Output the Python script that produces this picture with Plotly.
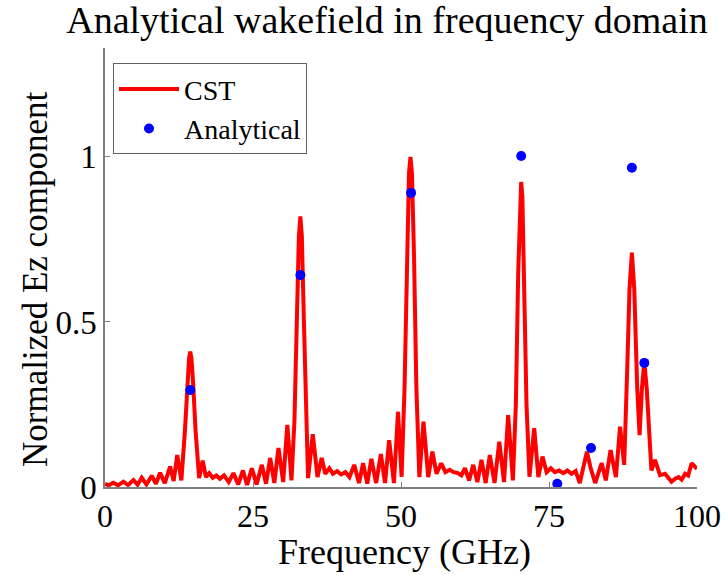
import plotly.graph_objects as go

# CST simulated spectrum
cst_freq = [0.0, 0.6, 1.4, 2.2, 3.1, 3.9, 4.8, 5.5, 6.2, 7.0, 7.9, 8.6, 9.3, 10.1, 11.0, 11.6, 12.2, 12.9,
            13.5, 13.9, 14.2, 14.4, 14.6, 14.9, 15.3, 15.9,
            16.5, 17.05, 17.6, 18.2, 18.8, 19.4, 20.1, 20.9, 21.7, 22.5, 23.3, 24.0, 24.8, 25.6, 26.5, 27.2,
            27.9, 28.6, 29.3, 30.1, 30.8, 31.5,
            32.0, 32.4, 32.75, 33.0, 33.25, 33.6, 33.95, 34.3,
            35.1, 35.9, 36.6, 37.2, 37.9, 38.5, 39.2, 39.9, 40.6, 41.3, 42.1, 42.9, 43.6, 44.3, 45.0, 45.8,
            46.6, 47.3, 48.0, 48.8, 49.5, 50.1,
            50.6, 51.0, 51.35, 51.6, 51.85, 52.2, 52.6, 53.1,
            53.8, 54.6, 55.3, 56.0, 56.8, 57.5, 58.2, 58.9, 59.6, 60.2, 60.8, 61.5, 62.2, 62.9, 63.6, 64.3,
            65.0, 65.8, 66.6, 67.4, 68.1, 68.9,
            69.4, 69.8, 70.1, 70.3, 70.5, 70.8, 71.2, 71.7,
            72.5, 73.2, 73.9, 74.6, 75.3, 76.0, 76.7, 77.4, 78.1, 78.8, 79.5, 80.2, 80.8, 81.4, 82.0, 82.8,
            83.9, 84.6, 85.4, 86.3, 87.0, 87.7,
            88.2, 88.6, 89.0, 89.4, 89.9, 90.3, 90.7, 91.1, 91.5, 92.3,
            92.9, 93.75, 94.6, 95.2, 95.7, 96.3, 96.9, 97.4, 98.0, 98.5, 99.1, 100.0]
cst_value = [0.010, 0.005, 0.013, 0.005, 0.016, 0.006, 0.021, 0.007, 0.028, 0.008, 0.034, 0.010, 0.043, 0.012, 0.062, 0.018, 0.097, 0.020,
             0.17, 0.31, 0.39, 0.41, 0.39, 0.31, 0.17, 0.027,
             0.080, 0.030, 0.042, 0.028, 0.035, 0.025, 0.035, 0.015, 0.042, 0.008, 0.050, 0.006, 0.057, 0.008, 0.067, 0.010,
             0.088, 0.012, 0.118, 0.015, 0.188, 0.020,
             0.20, 0.50, 0.76, 0.82, 0.76, 0.50, 0.20, 0.027,
             0.160, 0.030, 0.088, 0.040, 0.057, 0.040, 0.048, 0.038, 0.045, 0.030, 0.067, 0.012, 0.072, 0.010, 0.085, 0.012,
             0.100, 0.012, 0.142, 0.012, 0.228, 0.031,
             0.30, 0.70, 0.95, 1.0, 0.95, 0.70, 0.30, 0.030,
             0.198, 0.030, 0.107, 0.040, 0.072, 0.045, 0.052, 0.045, 0.042, 0.035, 0.057, 0.020, 0.067, 0.015, 0.082, 0.012,
             0.097, 0.012, 0.137, 0.015, 0.218, 0.020,
             0.25, 0.65, 0.88, 0.924, 0.88, 0.65, 0.25, 0.031,
             0.178, 0.030, 0.092, 0.045, 0.057, 0.045, 0.050, 0.042, 0.050, 0.040, 0.048, 0.012, 0.060, 0.107, 0.060, 0.012,
             0.072, 0.020, 0.112, 0.030, 0.183, 0.067,
             0.35, 0.60, 0.71, 0.60, 0.30, 0.157, 0.30, 0.377, 0.30, 0.050,
             0.082, 0.036, 0.040, 0.025, 0.016, 0.025, 0.030, 0.022, 0.040, 0.035, 0.072, 0.055]

# Analytical points
ana_freq = [14.4, 33.0, 51.7, 70.3, 76.4, 82.1, 89.0, 91.1]
ana_value = [0.294, 0.642, 0.891, 1.003, 0.01, 0.118, 0.967, 0.376]

x_ticks = [0, 25, 50, 75, 100]
y_ticks = [0, 0.5, 1]

FONT = "Liberation Serif, Times New Roman, serif"
W, H = 727, 575

fig = go.Figure()
fig.add_trace(go.Scatter(x=cst_freq, y=cst_value, mode="lines", name="CST",
                         line=dict(color="#ff0000", width=4)))
fig.add_trace(go.Scatter(x=ana_freq, y=ana_value, mode="markers", name="Analytical",
                         marker=dict(color="#0000ff", size=10), cliponaxis=False))

fig.update_layout(
    width=W, height=H,
    margin=dict(l=105, r=30, t=48, b=88, autoexpand=False),
    paper_bgcolor="white", plot_bgcolor="white",
    font=dict(family=FONT, color="black", size=30),
    title=dict(text="Analytical wakefield in frequency domain", x=387/W, xanchor="center",
               y=1 - 20/H, yanchor="middle", font=dict(size=38, family=FONT)),
    xaxis=dict(range=[0, 100], tickvals=x_ticks, ticktext=[str(v) for v in x_ticks],
               showline=True, linecolor="#808080", linewidth=1.5, mirror=False, automargin=False,
               ticks="inside", ticklen=5, tickcolor="#808080", showgrid=False, zeroline=False,
               tickfont=dict(size=32)),
    yaxis=dict(range=[0, 1.33], tickvals=y_ticks, ticktext=["0", "0.5", "1"],
               showline=True, linecolor="#808080", linewidth=1.5, mirror=False, automargin=False,
               ticks="inside", ticklen=5, tickcolor="#808080", showgrid=False, zeroline=False,
               tickfont=dict(size=33)),
    legend=dict(x=0.0135, y=0.965, xanchor="left", yanchor="top",
                bordercolor="#606060", borderwidth=1, bgcolor="white", itemwidth=60,
                font=dict(size=28, family=FONT), tracegroupgap=0),
    showlegend=True,
    annotations=[
        dict(text="Frequency (GHz)", xref="paper", yref="paper",
             x=(404.5 - 105) / 592, y=-(552 - 487) / 439, xanchor="center", yanchor="middle",
             showarrow=False, font=dict(size=36, family=FONT)),
        dict(text="Normalized Ez component", xref="paper", yref="paper", textangle=-90,
             x=-(105 - 35) / 592, y=(487 - 280) / 439, xanchor="center", yanchor="middle",
             showarrow=False, font=dict(size=35, family=FONT)),
    ],
)

fig.write_html("out.html")
